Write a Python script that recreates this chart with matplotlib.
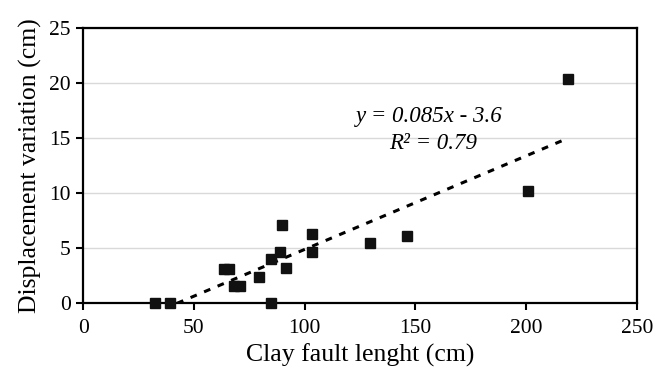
import matplotlib
matplotlib.use("Agg")
import matplotlib.pyplot as plt
import numpy as np

# Data
fault_length = [32.4, 39.2, 63.5, 65.8, 68.1, 70.8, 79.5, 84.6, 84.6, 88.8,
                89.7, 91.6, 103.2, 103.2, 129.5, 146.0, 200.9, 219.0]
displacement = [0.0, 0.0, 3.15, 3.15, 1.55, 1.55, 2.35, 0.0, 4.0, 4.7,
                7.15, 3.2, 6.3, 4.7, 5.5, 6.1, 10.25, 20.4]
slope = 0.085
intercept = -3.6
x_ticks = [0, 50, 100, 150, 200, 250]
y_ticks = [0, 5, 10, 15, 20, 25]

plt.rcParams['font.family'] = ['Liberation Serif', 'DejaVu Serif']

fig = plt.figure(figsize=(6.6, 3.73), dpi=100)
ax = fig.add_axes([0.1262, 0.1869, 0.9648 - 0.1262, 0.9241 - 0.1869])

ax.set_xlim(0, 250)
ax.set_ylim(0, 25)
ax.set_xticks(x_ticks)
ax.set_yticks(y_ticks)

ax.yaxis.grid(True, color='#d9d9d9', linewidth=1.0)
ax.set_axisbelow(True)

# trend line
x0 = -intercept / slope
xt = np.array([x0, max(fault_length)])
ax.plot(xt, slope * xt + intercept, color='black', linewidth=2.2,
        linestyle=(0, (2.2, 2.6)), zorder=2)

ax.plot(fault_length, displacement, linestyle='none', marker='s',
        markersize=6.5, color='#111111', clip_on=False, zorder=3)

ax.text(156.1, 16.95, 'y = 0.085x - 3.6', fontsize=16.5, style='italic',
        ha='center', va='center')
ax.text(157.9, 14.5, 'R² = 0.79', fontsize=16.5, style='italic',
        ha='center', va='center')

for s in ax.spines.values():
    s.set_linewidth(1.6)
    s.set_color('black')

ax.tick_params(axis='both', direction='out', length=5, width=1.5,
               labelsize=15.5, colors='black', pad=6)
ax.tick_params(axis='y', pad=4)

ax.set_xlabel('Clay fault lenght (cm)', fontsize=18.5, labelpad=4)
ax.set_ylabel('Displacement variation (cm)', fontsize=18.5, labelpad=5)

fig.savefig('out.png', dpi=100)
